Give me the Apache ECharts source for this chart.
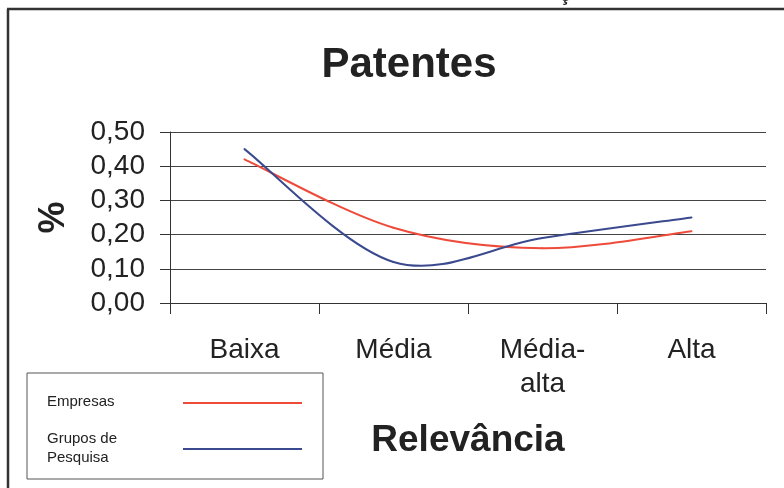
<!DOCTYPE html>
<html>
<head>
<meta charset="utf-8">
<script src="https://cdn.jsdelivr.net/npm/echarts@6/dist/echarts.min.js"></script>
<style>
  html, body { margin: 0; padding: 0; background: #ffffff; }
  #chart { width: 784px; height: 488px; }
</style>
</head>
<body>
<div id="chart"></div>
<script>
// Relevância das patentes: empresas vs. grupos de pesquisa
const categories = ['Baixa', 'Média', 'Média-\nalta', 'Alta'];
const empresas = [0.42, 0.22, 0.16, 0.21];
const gruposPesquisa = [0.45, 0.12, 0.19, 0.25];
const seriesNames = ['Empresas', 'Grupos de\nPesquisa'];
const seriesColors = ['#ee4b3b', '#3b4a8e'];
const yTicks = { min: 0, max: 0.5, interval: 0.1 };

const FONT = '"Liberation Sans", Arial, Helvetica, sans-serif';
const INK = '#222222';
const FRAME = '#333333';

const chart = echarts.init(document.getElementById('chart'), null, { renderer: 'canvas' });

// Smoothed line drawn as Catmull-Rom Bézier segments (spreadsheet-style
// smoothing, which may dip past a point). Each data item is one segment
// between category i and i+1; end points use a one-sided tangent.
function smoothSegmentSeries(name, values, color, z) {
  const segs = [];
  for (let i = 0; i < values.length - 1; i++) segs.push([i, values[i]]);
  return {
    name: name,
    type: 'custom',
    coordinateSystem: 'cartesian2d',
    encode: { x: 0, y: 1 },
    data: segs,
    z: z,
    silent: true,
    renderItem: function (params, api) {
      const i = params.dataIndex;
      const n = values.length;
      const pt = k => api.coord([Math.max(0, Math.min(n - 1, k)), values[Math.max(0, Math.min(n - 1, k))]]);
      const p0 = pt(i - 1), p1 = pt(i), p2 = pt(i + 1), p3 = pt(i + 2);
      return {
        type: 'bezierCurve',
        shape: {
          x1: p1[0], y1: p1[1],
          x2: p2[0], y2: p2[1],
          cpx1: p1[0] + (p2[0] - p0[0]) / 6,
          cpy1: p1[1] + (p2[1] - p0[1]) / 6,
          cpx2: p2[0] - (p3[0] - p1[0]) / 6,
          cpy2: p2[1] - (p3[1] - p1[1]) / 6
        },
        style: { stroke: color, lineWidth: 2, fill: null, lineCap: 'round' }
      };
    }
  };
}

// legend drawn as a boxed key with the line sample to the right of each name
const legendBox = { x: 27, y: 373, w: 296, h: 106 };
const legendRows = [402, 448];
const legendGraphics = [
  {
    type: 'rect',
    shape: { x: legendBox.x, y: legendBox.y, width: legendBox.w, height: legendBox.h },
    style: { fill: '#ffffff', stroke: '#555555', lineWidth: 1 }
  }
];
seriesNames.forEach((name, i) => {
  legendGraphics.push({
    type: 'text',
    x: 47, y: legendRows[i],
    style: {
      text: name, font: '15px ' + FONT, fill: INK,
      textVerticalAlign: 'middle', lineHeight: 19
    }
  });
  legendGraphics.push({
    type: 'line',
    shape: { x1: 183, y1: legendRows[i] + 1, x2: 302, y2: legendRows[i] + 1 },
    style: { stroke: seriesColors[i], lineWidth: 2 }
  });
});

const option = {
  backgroundColor: '#ffffff',
  animation: false,
  title: {
    text: 'Patentes',
    left: 404,
    top: 39,
    textAlign: 'center',
    textStyle: { fontFamily: FONT, fontSize: 42, fontWeight: 'bold', color: INK }
  },
  grid: { left: 170, right: 18, top: 132, bottom: 185, containLabel: false },
  xAxis: {
    type: 'category',
    data: categories,
    boundaryGap: true,
    name: 'Relevância',
    nameLocation: 'middle',
    nameGap: 119,
    nameTextStyle: { fontFamily: FONT, fontSize: 37, fontWeight: 'bold', color: INK },
    axisLine: { show: true, lineStyle: { color: FRAME, width: 1 } },
    axisTick: { show: true, length: 11, lineStyle: { color: FRAME, width: 1 } },
    axisLabel: {
      fontFamily: FONT, fontSize: 28, color: INK, margin: 30, lineHeight: 34,
      interval: 0
    },
    splitLine: { show: false }
  },
  yAxis: {
    type: 'value',
    min: yTicks.min,
    max: yTicks.max,
    interval: yTicks.interval,
    name: '%',
    nameLocation: 'middle',
    nameRotate: 90,
    nameGap: 98,
    nameTextStyle: { fontFamily: FONT, fontSize: 36, fontWeight: 'bold', color: INK },
    axisLine: { show: true, lineStyle: { color: FRAME, width: 1 } },
    axisTick: { show: true, length: 10, lineStyle: { color: FRAME, width: 1 } },
    axisLabel: {
      fontFamily: FONT, fontSize: 28, color: INK, margin: 25,
      formatter: v => v.toFixed(2).replace('.', ',')
    },
    splitLine: { show: true, lineStyle: { color: '#444444', width: 1 } }
  },
  series: [
    smoothSegmentSeries(seriesNames[0], empresas, seriesColors[0], 3),
    smoothSegmentSeries(seriesNames[1], gruposPesquisa, seriesColors[1], 4)
  ],
  graphic: [
    // page frame along the top and left edges
    { type: 'line', shape: { x1: 7, y1: 9, x2: 784, y2: 9 }, style: { stroke: FRAME, lineWidth: 2.5 } },
    { type: 'line', shape: { x1: 8, y1: 9, x2: 8, y2: 488 }, style: { stroke: FRAME, lineWidth: 2.5 } },
    // tail of a caption character above the frame
    { type: 'text', x: 565, y: 5, style: { text: 'ç', font: 'bold 20px ' + FONT, fill: INK, textAlign: 'center', textVerticalAlign: 'bottom' } }
  ].concat(legendGraphics)
};

chart.setOption(option);
</script>
</body>
</html>
